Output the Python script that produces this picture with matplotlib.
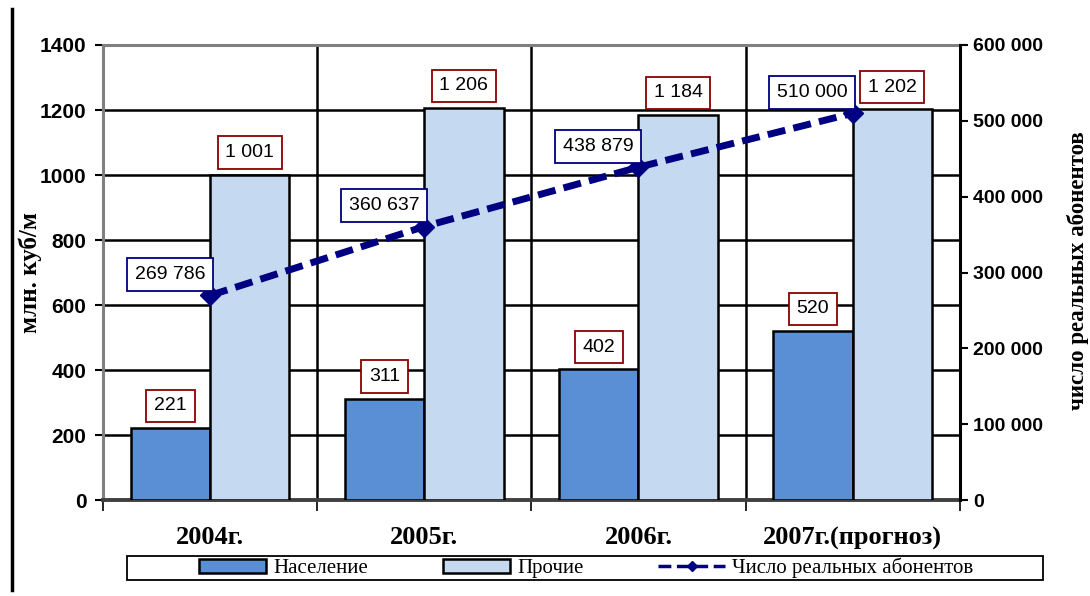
import matplotlib.pyplot as plt
import numpy as np
from matplotlib.patches import Patch, Rectangle
from matplotlib.lines import Line2D

years = ['2004г.', '2005г.', '2006г.', '2007г.(прогноз)']
naselenie = [221, 311, 402, 520]
prochie = [1001, 1206, 1184, 1202]
abonenty = [269786, 360637, 438879, 510000]


def fmt(v):
    return '{:,}'.format(v).replace(',', ' ')


fig = plt.figure(figsize=(10.9, 5.96), dpi=100)
ax = fig.add_axes([0.0945, 0.161, 0.786, 0.7635])
ax2 = ax.twinx()

x = np.arange(len(years))
w = 0.37
ax.bar(x - w / 2, naselenie, w, color='#5a8fd6', edgecolor='black', linewidth=1.8, zorder=3)
ax.bar(x + w / 2, prochie, w, color='#c5d9f0', edgecolor='black', linewidth=1.8, zorder=3)

ax.set_xlim(-0.5, len(years) - 0.5)
ax.set_ylim(0, 1400)
ax.set_yticks(range(0, 1401, 200))
ax.set_xticks(x)
ax.set_xticklabels(years, family='Liberation Serif', fontweight='bold', fontsize=19)
ax.set_xticks(np.arange(-0.5, len(years), 1), minor=True)
ax.tick_params(axis='x', which='major', length=0, pad=19)
ax.tick_params(axis='x', which='minor', length=8, width=1.2, direction='out')
ax.grid(axis='y', color='black', linewidth=1.8, zorder=0)
ax.grid(axis='x', which='minor', color='black', linewidth=1.8, zorder=0)
ax.set_axisbelow(True)
for lbl in ax.get_yticklabels():
    lbl.set_family('Liberation Sans')
    lbl.set_fontweight('bold')
    lbl.set_fontsize(15)
ax.tick_params(axis='y', length=6, width=1.5, pad=6)
ax.set_ylabel('млн. куб/м', family='Liberation Serif', fontweight='bold', fontsize=18)
ax.yaxis.set_label_coords(-0.071, 0.5)
for s in ['left', 'top']:
    ax.spines[s].set_color('gray')
    ax.spines[s].set_linewidth(2.2)
ax.spines['bottom'].set_color('#404040')
ax.spines['bottom'].set_linewidth(2.8)

ax2.plot(x, abonenty, color='#000080', linestyle='--', linewidth=5, dashes=(2.6, 1.2),
         marker='D', markersize=10, zorder=5)
ax2.set_ylim(0, 600000)
ax2.set_yticks(range(0, 600001, 100000))
ax2.set_yticklabels([fmt(v) for v in range(0, 600001, 100000)],
                    family='Liberation Sans', fontweight='bold', fontsize=14)
ax2.tick_params(axis='y', length=6, width=1.5)
ax2.spines['right'].set_color('black')
ax2.spines['right'].set_linewidth(2.2)
ax2.set_ylabel('число реальных абонентов', family='Liberation Serif', fontweight='bold',
               fontsize=16.5, rotation=90)
ax2.yaxis.label.set_va('center')
ax2.yaxis.set_label_coords(1.138, 0.505)
for s in ['left', 'top', 'bottom']:
    ax2.spines[s].set_visible(False)

box_red = dict(boxstyle='square,pad=0.4', fc='white', ec='#8b0000', lw=1.3)
box_blue = dict(boxstyle='square,pad=0.4', fc='white', ec='#000080', lw=1.3)
for i in range(len(years)):
    ax.annotate(str(naselenie[i]), (x[i] - w / 2, naselenie[i]), xytext=(0, 16),
                textcoords='offset points', ha='center', va='center', fontsize=14,
                family='Liberation Sans', zorder=6, bbox=box_red)
    ax.annotate(fmt(prochie[i]), (x[i] + w / 2, prochie[i]), xytext=(0, 16),
                textcoords='offset points', ha='center', va='center', fontsize=14,
                family='Liberation Sans', zorder=6, bbox=box_red)
    ax2.annotate(fmt(abonenty[i]), (x[i], abonenty[i]), xytext=(-29, 15),
                 textcoords='offset points', ha='center', va='center', fontsize=14,
                 family='Liberation Sans', zorder=6, bbox=box_blue)

# legend frame drawn by hand so it can be wider than the entries
fig.add_artist(Rectangle((127 / 1090, 1 - 580 / 596), 916 / 1090, 24 / 596,
                         transform=fig.transFigure, fc='white', ec='black', lw=1.3))
handles = [Patch(fc='#5a8fd6', ec='black', lw=1.8),
           Patch(fc='#c5d9f0', ec='black', lw=1.8),
           Line2D([], [], color='#000080', linestyle='--', lw=2.5, marker='D', markersize=5)]
leg = fig.legend(handles, ['Население', 'Прочие', 'Число реальных абонентов'],
                 loc='center', bbox_to_anchor=(0.538, 0.047), ncol=3, frameon=False,
                 columnspacing=3.6, handlelength=3.2, handleheight=0.6, handletextpad=0.35,
                 prop={'family': 'Liberation Serif', 'size': 15}, borderpad=0.1,
                 borderaxespad=0)

fig.add_artist(Line2D([0.011, 0.011], [0.01, 0.985], color='black', lw=2.5,
                      transform=fig.transFigure))

fig.savefig('out.png', dpi=100)
